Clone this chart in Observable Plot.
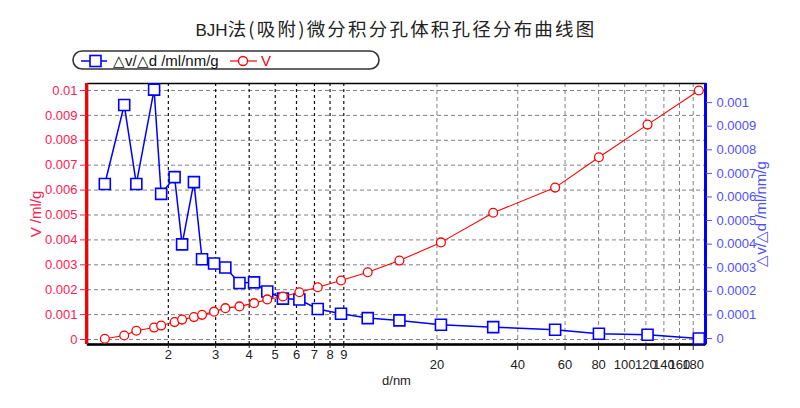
<!DOCTYPE html>
<html><head><meta charset="utf-8">
<script src="https://cdn.jsdelivr.net/npm/d3@7"></script>
<script src="https://cdn.jsdelivr.net/npm/@observablehq/plot@0.6"></script>
<style>
body{margin:0;background:#fff;}
#wrap{position:relative;width:800px;height:408px;overflow:hidden;}
#title{position:absolute;top:15px;left:0;width:792px;text-align:center;font:18.5px "Noto Sans CJK SC",sans-serif;letter-spacing:2.2px;color:#222;white-space:nowrap;}
#title .latin{letter-spacing:0;font-family:"Liberation Sans",Arial,sans-serif;font-size:17px;}
#legend{position:absolute;left:72px;top:50px;}
#chart{position:absolute;left:0;top:0;}
</style></head>
<body>
<div id="wrap">
  <div id="chart"></div>
  <div id="title"></div>
  <div id="legend"></div>
</div>
<script>
// ---- data ----
const dNm = [1.16, 1.37, 1.52, 1.77, 1.88, 2.11, 2.25, 2.49, 2.67, 2.96, 3.26, 3.68, 4.17, 4.67, 5.34, 6.15, 7.2, 8.79, 11.05, 14.5, 20.7, 32.4, 55.1, 80.2, 121.7, 188.9];
const dvdd = [0.000655, 0.00099, 0.000655, 0.001055, 0.000613, 0.000684, 0.000399, 0.000663, 0.000336, 0.000318, 0.000301, 0.000235, 0.000238, 0.000199, 0.000169, 0.000165, 0.000125, 0.000105, 0.0000864, 0.0000766, 0.0000582, 0.000048, 0.000037, 0.00002, 0.0000157, 0];
const vol = [0.00003, 0.00016, 0.00035, 0.00048, 0.00056, 0.0007, 0.0008, 0.0009, 0.00099, 0.00112, 0.00126, 0.00133, 0.00146, 0.00161, 0.00173, 0.0019, 0.0021, 0.00237, 0.0027, 0.00317, 0.0039, 0.00509, 0.0061, 0.00732, 0.00863, 0.01];
const xMinorTicks = [2, 3, 4, 5, 6, 7, 8, 9];
const xMajorTicks = [20, 40, 60, 80, 100, 120, 140, 160, 180];
const vTicks = [0, 0.001, 0.002, 0.003, 0.004, 0.005, 0.006, 0.007, 0.008, 0.009, 0.01];
const dvTicks = [0, 0.0001, 0.0002, 0.0003, 0.0004, 0.0005, 0.0006, 0.0007, 0.0008, 0.0009, 0.001];
const xDomain = [1, 200];
const leftDomain = [-0.0002, 0.01028];
const rightDomain = [-0.0000255, 0.001081];
const title = "BJH法(吸附)微分积分孔体积孔径分布曲线图";
const seriesNames = ["△v/△d /ml/nm/g", "V"];
const axisLabels = {x: "d/nm", left: "V /ml/g", right: "△v/△d /ml/nm/g"};

// map right-axis values into left-axis units
const toLeft = r => leftDomain[0] + (r - rightDomain[0]) / (rightDomain[1] - rightDomain[0]) * (leftDomain[1] - leftDomain[0]);
const fromLeft = l => rightDomain[0] + (l - leftDomain[0]) / (leftDomain[1] - leftDomain[0]) * (rightDomain[1] - rightDomain[0]);

const rows = dNm.map((d, i) => ({d, dv: toLeft(dvdd[i]), v: vol[i]}));
const RED = "#ff0000", BLUE = "#0000ff";

const chart = Plot.plot({
  width: 800, height: 408,
  marginTop: 83, marginBottom: 64, marginLeft: 87, marginRight: 95,
  style: {fontFamily: "'Liberation Sans', Arial, sans-serif", fontSize: "13px", background: "transparent", overflow: "visible"},
  x: {type: "log", domain: xDomain},
  y: {domain: leftDomain},
  marks: [
    Plot.ruleY(vTicks, {stroke: "#808080", strokeDasharray: "4,3", strokeWidth: 1}),
    Plot.ruleX(xMinorTicks, {stroke: "#111", strokeDasharray: "3,3", strokeWidth: 1.2}),
    Plot.ruleX(xMajorTicks, {stroke: "#808080", strokeDasharray: "4,3", strokeWidth: 1}),
    Plot.frame({stroke: "#000", strokeWidth: 1.5}),
    Plot.ruleY([leftDomain[0]], {stroke: "#000", strokeWidth: 2.5}),
    Plot.ruleX([xDomain[0]], {stroke: RED, strokeWidth: 3, dx: -1}),
    Plot.ruleX([xDomain[1]], {stroke: BLUE, strokeWidth: 3}),
    Plot.axisY(vTicks, {anchor: "left", tickFormat: t => String(+t.toFixed(3)), color: "#ff2050", tickSize: 7, tickPadding: 3,
      label: axisLabels.left, labelAnchor: "center", labelOffset: 57, labelArrow: "none", fontSize: 13}),
    Plot.axisY(dvTicks.map(toLeft), {anchor: "right", tickFormat: t => String(+fromLeft(t).toFixed(4)), color: "#5050ff", tickSize: 6, tickPadding: 5,
      label: axisLabels.right, labelAnchor: "center", labelOffset: 60, labelArrow: "none", fontSize: 13}),
    Plot.axisX(xMinorTicks, {tickFormat: () => "", tickSize: 4, color: "#222", label: axisLabels.x, labelAnchor: "center", labelOffset: 40, labelArrow: "none", fontSize: 13}),
    Plot.axisX(xMajorTicks, {tickFormat: () => "", tickSize: 6, color: "#222", label: null}),
    Plot.text(xMinorTicks, {x: d => d, frameAnchor: "bottom", lineAnchor: "top", dy: 5, text: d => String(d), fill: "#222", fontSize: 13}),
    Plot.text(xMajorTicks, {x: d => d, frameAnchor: "bottom", lineAnchor: "top", dy: 15, text: d => String(d), fill: "#222", fontSize: 13}),
    Plot.line(rows, {x: "d", y: "dv", stroke: BLUE, strokeWidth: 1.5}),
    Plot.dot(rows, {x: "d", y: "dv", symbol: "square", r: 6.2, stroke: BLUE, fill: "white", strokeWidth: 1.6}),
    Plot.line(rows, {x: "d", y: "v", stroke: RED, strokeWidth: 1.1}),
    Plot.dot(rows, {x: "d", y: "v", r: 4.4, stroke: RED, fill: "white", strokeWidth: 1.3})
  ]
});
document.getElementById("chart").appendChild(chart);
// enlarge the two y-axis titles
d3.select(chart).selectAll("g[aria-label='y-axis label'] text, g[aria-label='y-axis label']").style("font-size", "15px");

// title: Latin prefix without extra spacing
const t = d3.select("#title");
t.append("span").attr("class", "latin").text(title.slice(0, 3));
t.append("span").text(title.slice(3));

// legend
const leg = d3.select("#legend").append("svg").attr("width", 310).attr("height", 22)
  .style("font-family", "'Liberation Sans', Arial, sans-serif");
leg.append("rect").attr("x", 1).attr("y", 1).attr("width", 306).attr("height", 18).attr("rx", 9)
  .attr("fill", "white").attr("stroke", "#333").attr("stroke-width", 1.6);
leg.append("line").attr("x1", 9).attr("x2", 35).attr("y1", 11).attr("y2", 11).attr("stroke", BLUE).attr("stroke-width", 1.5);
leg.append("rect").attr("x", 18).attr("y", 5.5).attr("width", 11).attr("height", 11).attr("fill", "white").attr("stroke", BLUE).attr("stroke-width", 1.6);
leg.append("text").attr("x", 41).attr("y", 16).attr("font-size", 15).attr("fill", "#111").text(seriesNames[0]);
leg.append("line").attr("x1", 158).attr("x2", 185).attr("y1", 11).attr("y2", 11).attr("stroke", RED).attr("stroke-width", 1.2);
leg.append("circle").attr("cx", 171).attr("cy", 11).attr("r", 4.5).attr("fill", "white").attr("stroke", RED).attr("stroke-width", 1.3);
leg.append("text").attr("x", 189).attr("y", 16).attr("font-size", 15).attr("fill", RED).text(seriesNames[1]);
</script>
</body></html>
